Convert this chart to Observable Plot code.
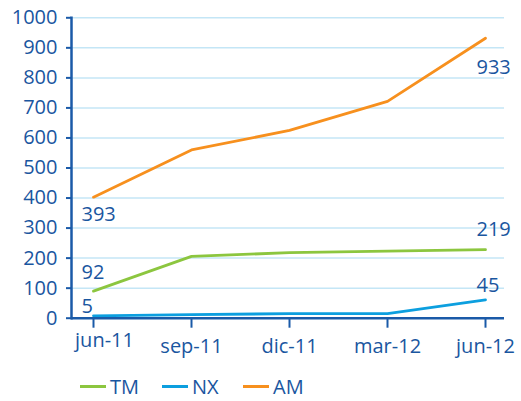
<!DOCTYPE html>
<html>
<head>
<meta charset="utf-8">
<script src="https://cdn.jsdelivr.net/npm/d3@7"></script>
<script src="https://cdn.jsdelivr.net/npm/@observablehq/plot@0.6"></script>
<style>
  body { margin: 0; background: #fff; font-family: "Open Sans", sans-serif; }
  #wrap { position: relative; width: 521px; height: 401px; }
  #legend { position: absolute; left: 0; top: 365px; width: 521px; height: 36px; }
  .item { position: absolute; top: 8px; display: flex; align-items: center; font-size: 20px; color: #1a56a0; }
  .sw { width: 26px; height: 3px; margin-right: 4px; }
</style>
</head>
<body>
<div id="wrap">
  <div id="chart"></div>
  <div id="legend"></div>
</div>
<script>
const categories = ["jun-11", "sep-11", "dic-11", "mar-12", "jun-12"];
const seriesNames = ["TM", "NX", "AM"];
const tmValues = [90, 206, 218, 223, 228];
const nxValues = [8, 12, 15, 15, 61];
const amValues = [403, 560, 625, 722, 932];
const startLabels = [92, 5, 393];   // TM, NX, AM at jun-11
const endLabels = [219, 45, 933];   // TM, NX, AM at jun-12
const yTicks = [0, 100, 200, 300, 400, 500, 600, 700, 800, 900, 1000];

const colors = { TM: "#8cc63f", NX: "#0c9fdf", AM: "#f7901e" };
const textColor = "#1a56a0";
const axisColor = "#1a5aa8";

const valuesBySeries = { TM: tmValues, NX: nxValues, AM: amValues };
const rows = seriesNames.flatMap(s => categories.map((c, i) => ({ series: s, cat: c, value: valuesBySeries[s][i] })));

// label styling offsets (pixels)
const startOffsets = { TM: [-12, -18], NX: [-12, -10], AM: [-12, 14] };
const endOffsets = { TM: [-9, -23], NX: [-9, -19], AM: [-9, 30] };

const labelMarks = [];
seriesNames.forEach((s, i) => {
  labelMarks.push(Plot.text([{ cat: categories[0], v: startLabels[i] }], {
    x: "cat", y: "v", text: d => String(d.v), textAnchor: "start",
    dx: startOffsets[s][0], dy: startOffsets[s][1], fill: textColor, fontSize: 20
  }));
  labelMarks.push(Plot.text([{ cat: categories[4], v: endLabels[i] }], {
    x: "cat", y: "v", text: d => String(d.v), textAnchor: "start",
    dx: endOffsets[s][0], dy: endOffsets[s][1], fill: textColor, fontSize: 20
  }));
});

const chart = Plot.plot({
  width: 521,
  height: 365,
  marginLeft: 71,
  marginRight: 17,
  marginTop: 17.3,
  marginBottom: 47.3,
  style: { fontFamily: "Open Sans", fontSize: "20px", color: textColor, background: "#fff" },
  x: { type: "point", domain: categories, range: [91, 486], padding: 0 },
  y: { domain: [0, 1000] },
  marks: [
    Plot.gridY(yTicks, { stroke: "#c4e6f6", strokeOpacity: 1, strokeWidth: 1.5 }),
    Plot.axisY(yTicks, { tickSize: 5, tickPadding: 9, stroke: axisColor, strokeWidth: 2, fill: textColor, fontSize: 20, label: null, tickFormat: d => String(d) }),
    Plot.axisX([categories[0]], { tickSize: 10, tickPadding: 11, stroke: axisColor, strokeWidth: 2, text: null, label: null }),
    Plot.text([categories[0]], { x: d => d, frameAnchor: "bottom", dy: 29, dx: 11, text: d => d, fill: textColor, fontSize: 20 }),
    Plot.axisX(categories.slice(1), { tickSize: 10, tickPadding: 11, stroke: axisColor, strokeWidth: 2, fill: textColor, fontSize: 20, label: null }),
    Plot.lineY(rows, { x: "cat", y: "value", z: "series", stroke: d => colors[d.series], strokeWidth: 2.8 }),
    Plot.ruleY([0], { stroke: axisColor, strokeWidth: 2.5 }),
    Plot.frame({ anchor: "left", stroke: axisColor, strokeWidth: 2.5 }),
    ...labelMarks
  ]
});
document.getElementById("chart").appendChild(chart);

// legend
const legend = document.getElementById("legend");
const legendX = [80, 162, 243];
seriesNames.forEach((s, i) => {
  const it = document.createElement("div");
  it.className = "item";
  it.style.left = legendX[i] + "px";
  const sw = document.createElement("span");
  sw.className = "sw";
  sw.style.background = colors[s];
  const t = document.createElement("span");
  t.textContent = s;
  it.appendChild(sw);
  it.appendChild(t);
  legend.appendChild(it);
});
</script>
</body>
</html>
